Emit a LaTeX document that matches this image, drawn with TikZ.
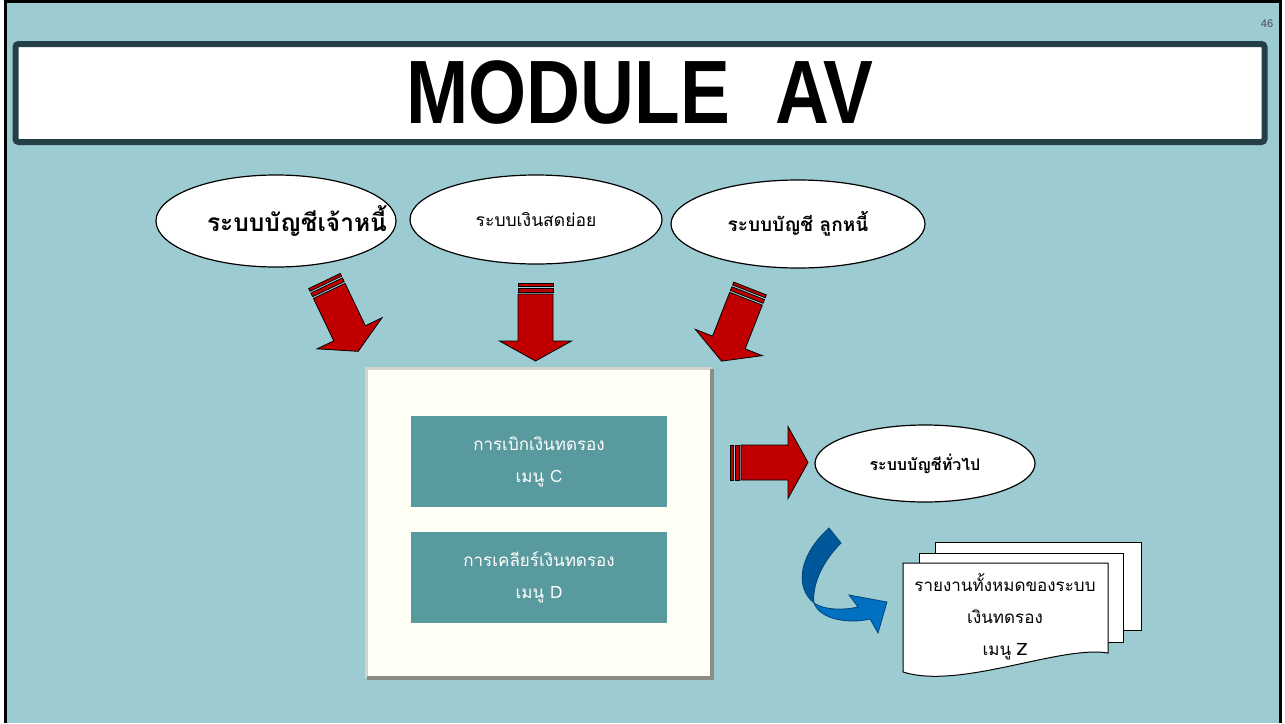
\documentclass[tikz,border=0pt]{standalone}
\usepackage{fontspec}
\newfontfamily\thaifont[Script=Thai]{Loma}
\newfontfamily\titlefont{Liberation Sans}
\usetikzlibrary{shapes.geometric}
\definecolor{slidebg}{HTML}{9DCBD2}
\definecolor{banner}{HTML}{243F45}
\definecolor{redfill}{HTML}{C00000}
\definecolor{tealbox}{HTML}{599A9E}
\definecolor{cream}{HTML}{FFFFF6}
\definecolor{bluelite}{HTML}{0070C0}
\definecolor{bluedark}{HTML}{00589A}
\definecolor{bevelshade}{HTML}{8C8C84}
\definecolor{bevellight}{HTML}{D4D4CC}
\tikzset{
  sysnode/.style={ellipse,draw=black,fill=white,line width=1.2pt,inner xsep=-20pt,inner ysep=0pt,
    minimum width=#1,align=center},
  sysnode/.default=240pt,
  menubox/.style={fill=tealbox,text=white,minimum width=256pt,minimum height=91pt,align=center,
    font=\thaifont\fontsize{17}{32}\selectfont},
  panel/.style={fill=cream,minimum width=345pt,minimum height=309pt,inner sep=0pt},
  docpage/.style={draw=black,fill=white,line width=1pt},
  redarrow/.pic={
    \filldraw[fill=redfill,draw=black,line width=0.8pt] (-17.5,0) rectangle (17.5,3);
    \filldraw[fill=redfill,draw=black,line width=0.8pt] (-17.5,5) rectangle (17.5,9);
    \filldraw[fill=redfill,draw=black,line width=0.8pt,line join=miter]
      (-17.5,11) -- (17.5,11) -- (17.5,58) -- (36,58) -- (0,78) -- (-36,58) -- (-17.5,58) -- cycle;
  },
}

\begin{document}
\begin{tikzpicture}[x=1pt,y=-1pt,font=\thaifont\fontsize{17.5}{20}\selectfont]
        \useasboundingbox (0,0) rectangle (1285,723);
        \fill[white] (0,0) rectangle (1285,723);
        \fill[slidebg] (5.5,1.5) rectangle (1280.5,723);
        \draw[black,line width=3pt] (5.5,723) -- (5.5,1.5) -- (1280.5,1.5) -- (1280.5,723);
        \node[text=black!70,font=\titlefont\fontsize{11}{13}\selectfont] (pageno) at (1267,24) {46};

        % title banner
        \node[draw=banner,fill=white,line width=6pt,rounded corners=3pt,minimum width=1249pt,
          minimum height=98pt,font=\titlefont\bfseries\fontsize{90}{92}\selectfont] (title) at (640,93)
          {\scalebox{0.83}[1]{MODULE\,\, AV}};

        % source systems
        \node[sysnode,inner xsep=-34pt,minimum height=92pt,font=\thaifont\bfseries\fontsize{24.5}{26}\selectfont]
          (ap) at (276,221) {\hspace*{42pt}ระบบบัญชีเจ้าหนี้};
        \node[sysnode=252pt,minimum height=89pt] (petty) at (536,219.5) {ระบบเงินสดย่อย};
        \node[sysnode=254pt,minimum height=88pt,font=\thaifont\bfseries\fontsize{19}{24}\selectfont] (ar) at (798,224) {ระบบบัญชี ลูกหนี้};

        \pic[rotate=25.6]  (in1) at (324.5,281) {redarrow};
        \pic               (in2) at (535.5,283) {redarrow};
        \pic[rotate=-21.4] (in3) at (750,288.5) {redarrow};

        % advance module
        \node[panel] (frame) at (539.5,523.5) {};
        \draw[bevellight,line width=3pt] (frame.south west) -- (frame.north west) -- (frame.north east);
        \draw[bevelshade,line width=4pt] (frame.north east) -- (frame.south east) -- (frame.south west);
        \node[menubox] (menuc) at (539,461.5) {การเบิกเงินทดรอง\\เมนู C};
        \node[menubox] (menud) at (539,577.5) {การเคลียร์เงินทดรอง\\เมนู D};

        \pic[rotate=90] (out) at (730,462.5) {redarrow};
        \node[sysnode=220pt,minimum height=77pt,font=\thaifont\bfseries\fontsize{16}{20}\selectfont] (gl) at (925,463.5) {ระบบบัญชีทั่วไป};

        % reports
        \draw[bluedark!80!black,fill=bluedark,line width=0.8pt]
          (829,528) -- (841,543) .. controls (822,562) and (812,585) .. (814,603)
          .. controls (795,588) and (798,556) .. (829,528) -- cycle;
        \draw[bluedark!80!black,fill=bluelite,line width=0.8pt]
          (814,603) .. controls (820,620) and (850,624) .. (870,619) -- (878,633) -- (887,602)
          -- (849,595) -- (858,607) .. controls (840,611) and (822,609) .. (814,603) -- cycle;
        \draw[docpage] (935,542) rectangle (1141,630);
        \draw[docpage] (919,553) rectangle (1123,642);
        \draw[docpage] (903,563) -- (1108,563) -- (1108,653)
          .. controls (1060,645) and (960,690) .. (903,672) -- cycle;
        \node[align=center,font=\thaifont\fontsize{17}{32}\selectfont] (report) at (1005,617)
          {รายงานทั้งหมดของระบบ\\เงินทดรอง\\เมนู Z};
      \end{tikzpicture}
\end{document}
